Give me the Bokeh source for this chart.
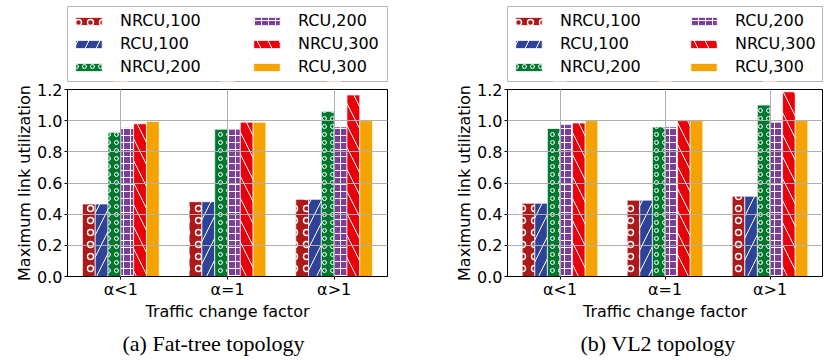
from bokeh.plotting import figure
from bokeh.models import (FactorRange, Range1d, FixedTicker, PrintfTickFormatter,
                          Legend, LegendItem, Title, ColumnDataSource)
from bokeh.transform import dodge
from bokeh.layouts import row, column
from bokeh.embed import file_html
from bokeh.resources import INLINE

# ---------------- data ----------------
categories = ["α<1", "α=1", "α>1"]
series_names = ["NRCU,100", "RCU,100", "NRCU,200", "RCU,200", "NRCU,300", "RCU,300"]

fat_nrcu100 = [0.465, 0.480, 0.495]
fat_rcu100 = [0.465, 0.480, 0.495]
fat_nrcu200 = [0.925, 0.945, 1.060]
fat_rcu200 = [0.955, 0.945, 0.960]
fat_nrcu300 = [0.980, 0.990, 1.165]
fat_rcu300 = [0.995, 0.990, 1.000]

vl2_nrcu100 = [0.470, 0.490, 0.515]
vl2_rcu100 = [0.470, 0.490, 0.515]
vl2_nrcu200 = [0.950, 0.960, 1.100]
vl2_rcu200 = [0.975, 0.960, 0.990]
vl2_nrcu300 = [0.985, 1.000, 1.185]
vl2_rcu300 = [1.000, 1.000, 1.000]

y_ticks = [0.0, 0.2, 0.4, 0.6, 0.8, 1.0, 1.2]

# ---------------- styles ----------------
colors = ["#AD1919", "#2E4398", "#00782F", "#7B3F9B", "#E8000B", "#F5A300"]
hatches = ["o", "/", "o", "+", "\\", " "]
hatch_scales = [12, 22, 8, 7, 22, 12]
hatch_weights = [1.4, 1.0, 1.0, 1.0, 1.0, 1.0]
bar_w = 0.12
FONT = "DejaVu Sans"


def bar_style(i):
    return dict(fill_color=colors[i], line_color="white", line_alpha=0.7, line_width=1,
                hatch_pattern=hatches[i], hatch_color="white",
                hatch_scale=hatch_scales[i], hatch_weight=hatch_weights[i])


def make_source(values):
    return ColumnDataSource(dict(cat=categories,
                                 **{f"s{i}": v for i, v in enumerate(values)}))


def make_legend_fig(values, width, col2_x):
    # legend strip above the chart; its frame is aligned with the chart's frame
    # and its outline serves as the legend box
    src = make_source(values)
    lf = figure(width=width, height=82, x_range=FactorRange(*categories),
                y_range=Range1d(2, 3),
                min_border_left=0, min_border_right=0, min_border_top=6,
                min_border_bottom=1, x_axis_location=None, y_axis_location=None,
                title=None, output_backend="svg", toolbar_location=None)
    lf.outline_line_color = "#b4b4b4"
    lf.outline_line_width = 1
    lf.outline_line_alpha = 1.0
    lf.xgrid.visible = False
    lf.ygrid.visible = False
    lf.background_fill_color = "white"
    lf.border_fill_color = "white"
    rs = [lf.vbar(x="cat", top=f"s{i}", width=bar_w, source=src, **bar_style(i))
          for i in range(6)]
    items = [LegendItem(label=series_names[i], renderers=[rs[i]]) for i in range(6)]
    common = dict(glyph_width=33, glyph_height=10, label_height=19, label_standoff=15,
                  spacing=4, padding=4, margin=0, label_width=20,
                  label_text_font=FONT, label_text_font_size="16px",
                  label_text_color="black",
                  border_line_alpha=0, background_fill_alpha=0)
    leg1 = Legend(items=items[:3], location=(1, 1), **common)
    leg2 = Legend(items=items[3:], location=(col2_x, 1), **common)
    lf.add_layout(leg1, "center")
    lf.add_layout(leg2, "center")
    return lf


def make_plot(values, caption, width, left, right, cap_offset):
    src = make_source(values)
    p = figure(x_range=FactorRange(*categories), y_range=Range1d(0, 1.2),
               width=width, height=278,
               min_border_left=left, min_border_right=right,
               min_border_top=7, min_border_bottom=82,
               output_backend="svg", toolbar_location=None)
    p.x_range.range_padding = 0
    p.background_fill_color = "white"
    p.border_fill_color = "white"
    p.outline_line_color = "black"
    p.outline_line_width = 1
    p.outline_line_alpha = 1

    for i in range(6):
        off = (i - 2.5) * bar_w
        p.vbar(x=dodge("cat", off, range=p.x_range), top=f"s{i}", width=bar_w,
               source=src, **bar_style(i))

    for g in (p.xgrid, p.ygrid):
        g.grid_line_color = "#b0b0b0"
        g.grid_line_width = 1
        g.level = "overlay"
    p.ygrid.ticker = FixedTicker(ticks=y_ticks)

    p.yaxis.ticker = FixedTicker(ticks=y_ticks)
    p.yaxis.formatter = PrintfTickFormatter(format="%.1f")
    for ax in (p.xaxis[0], p.yaxis[0]):
        ax.axis_line_color = "black"
        ax.major_tick_line_color = "black"
        ax.major_tick_in = 0
        ax.major_tick_out = 3
        ax.minor_tick_line_color = None
        ax.major_label_text_font = FONT
        ax.major_label_text_font_size = "16px"
        ax.major_label_text_color = "black"
        ax.axis_label_text_font = FONT
        ax.axis_label_text_font_size = "16px"
        ax.axis_label_text_font_style = "normal"
        ax.axis_label_text_color = "black"
    p.xaxis.axis_label = "Traffic change factor"
    p.yaxis.axis_label = "Maximum link utilization"
    p.yaxis.major_label_standoff = 2
    p.yaxis.axis_label_standoff = 0
    p.xaxis.major_label_standoff = 0
    p.xaxis.axis_label_standoff = 0

    cap = Title(text=caption, align="left", text_font="Liberation Serif",
                text_font_size="22px", text_font_style="normal", text_color="black",
                offset=cap_offset)
    p.add_layout(cap, "below")
    return p


fat_values = [fat_nrcu100, fat_rcu100, fat_nrcu200, fat_rcu200, fat_nrcu300, fat_rcu300]
vl2_values = [vl2_nrcu100, vl2_rcu100, vl2_nrcu200, vl2_rcu200, vl2_nrcu300, vl2_rcu300]

l1 = make_legend_fig(fat_values, 420, 179)
p1 = make_plot(fat_values, "(a) Fat-tree topology", 420, 67, 33, 55)
l2 = make_legend_fig(vl2_values, 408, 176)
p2 = make_plot(vl2_values, "(b) VL2 topology", 408, 87, 6, 73)

layout = row(column(l1, p1), column(l2, p2))
open("out.html", "w").write(file_html(layout, INLINE))
